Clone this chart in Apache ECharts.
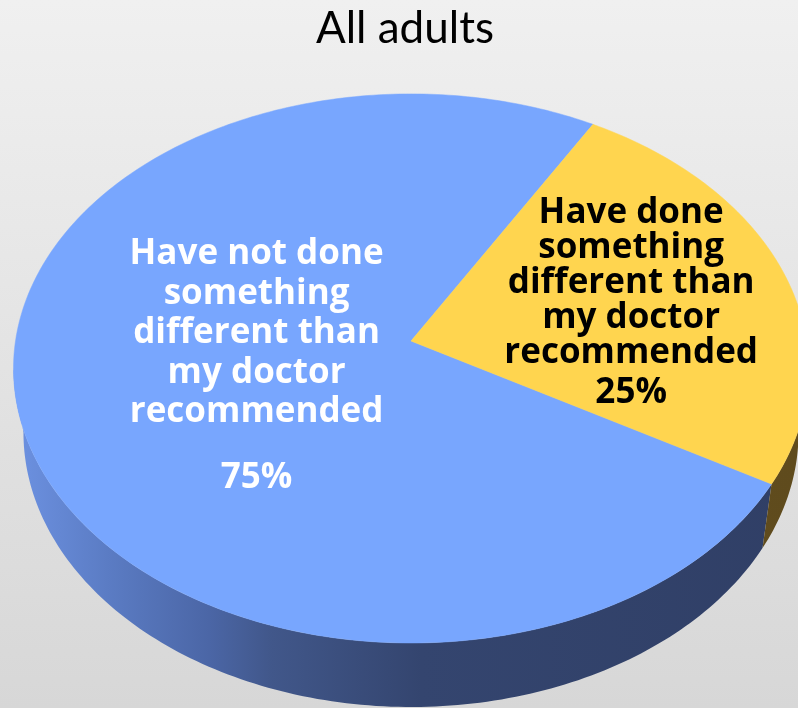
<!DOCTYPE html>
<html>
<head>
<meta charset="utf-8">
<script src="https://cdn.jsdelivr.net/npm/echarts@6/dist/echarts.min.js"></script>
<style>
  html, body { margin: 0; padding: 0; }
  #chart { width: 798px; height: 708px; background: linear-gradient(#f0f0f0, #d7d7d7); }
</style>
</head>
<body>
<div id="chart"></div>
<script>
// Survey answers shown as a tilted (3-D look) pie
const chartTitle = 'All adults';
const categories = [
  'Have not done\nsomething\ndifferent than\nmy doctor\nrecommended',
  'Have done\nsomething\ndifferent than\nmy doctor\nrecommended'
];
const shares = [75, 25];

// Styling
const topColors = ['#78a6fe', '#ffd54f'];
const wallColors = [
  [[0, '#6d92e2'], [0.12, '#5b7cc4'], [0.25, '#4b66a6'], [0.33, '#41578a'], [0.52, '#34456f'], [1, '#303f66']],
  [[0, '#6b5522'], [1, '#5f4b1d']]
];
const labelColors = ['#ffffff', '#000000'];
const labelLineHeight = [39.5, 35];
const pctLineHeight = [92, 45];
const labelRadius = [0.40, 0.585];
const labelNudge = [10, 5];                  // extra downward shift of each label block
const labelFont = "'Open Sans', 'DejaVu Sans', sans-serif";

// Pie geometry: centre, half-axes, perspective factor, thickness
const geo = { cx: 411, cy: 341, a: 395.5, b: 271.8, k: 0.1, depth: 64, baseScale: 0.975 };
const START_ANGLE = 120;                     // degrees clockwise from 12 o'clock
const WALL_FROM = 95.7, WALL_TO = 264.3;     // front-facing part of the rim

function proj(theta, r, level) {
  const t = theta * Math.PI / 180;
  const u = r * Math.sin(t), v = -r * Math.cos(t);
  const s = 1 / (1 - geo.k * v);
  let x = geo.cx + geo.a * u * s;
  let y = geo.cy + geo.b * v * s;
  if (level) {
    x = geo.cx + (x - geo.cx) * geo.baseScale;
    y += geo.depth;
  }
  return [x, y];
}

function arc(from, to, r, level) {
  const pts = [];
  const n = Math.max(2, Math.ceil(Math.abs(to - from)));
  for (let i = 0; i <= n; i++) pts.push(proj(from + (to - from) * i / n, r, level));
  return pts;
}

const total = shares.reduce((s, v) => s + v, 0);
const seriesData = shares.map((v, i) => [v, shares.slice(0, i).reduce((s, w) => s + w, 0)]);

function renderSlice(params, api) {
  const i = params.dataIndex;
  const value = api.value(0);
  const before = api.value(1);
  const a0 = START_ANGLE + 360 * before / total;
  const a1 = a0 + 360 * value / total;
  const children = [];

  // visible rim wall
  [0, 360, -360].forEach(off => {
    const lo = Math.max(a0, WALL_FROM + off), hi = Math.min(a1, WALL_TO + off);
    if (hi > lo) {
      const pts = arc(lo, hi, 1, 0).concat(arc(hi, lo, 1, 1));
      children.push({
        type: 'polygon',
        shape: { points: pts },
        style: {
          fill: {
            type: 'linear', x: 13, y: 0, x2: 798, y2: 0, global: true,
            colorStops: wallColors[i].map(c => ({ offset: c[0], color: c[1] }))
          },
          stroke: null
        },
        z2: 1
      });
    }
  });

  // top face
  children.push({
    type: 'polygon',
    shape: { points: [proj(0, 0, 0)].concat(arc(a0, a1, 1, 0)) },
    style: { fill: topColors[i], stroke: topColors[i], lineWidth: 0.5 },
    z2: 2
  });

  // label
  const mid = (a0 + a1) / 2;
  const p = proj(mid, labelRadius[i], 0);
  const pct = Math.round(100 * value / total) + '%';
  const nameLines = categories[i].split('\n').map(l => '{n|' + l + '}').join('\n');
  const font = { fontFamily: labelFont, fontWeight: 'bold', fontSize: 35, fill: labelColors[i] };
  children.push({
    type: 'text',
    x: p[0], y: p[1] + labelNudge[i],
    style: {
      text: nameLines + '\n{p|' + pct + '}',
      align: 'center',
      verticalAlign: 'middle',
      rich: {
        n: Object.assign({ lineHeight: labelLineHeight[i] }, font),
        p: Object.assign({ lineHeight: pctLineHeight[i] }, font)
      }
    },
    z2: 3
  });

  return { type: 'group', children: children };
}

const chart = echarts.init(document.getElementById('chart'), null, { renderer: 'canvas' });
chart.setOption({
  backgroundColor: 'transparent',
  animation: false,
  title: {
    text: chartTitle,
    left: 311,
    top: 2,
    textStyle: { fontFamily: 'Lato', fontWeight: 'normal', fontSize: 44, color: '#000' }
  },
  series: [{
    type: 'custom',
    coordinateSystem: 'none',
    renderItem: renderSlice,
    data: seriesData
  }]
});
</script>
</body>
</html>
